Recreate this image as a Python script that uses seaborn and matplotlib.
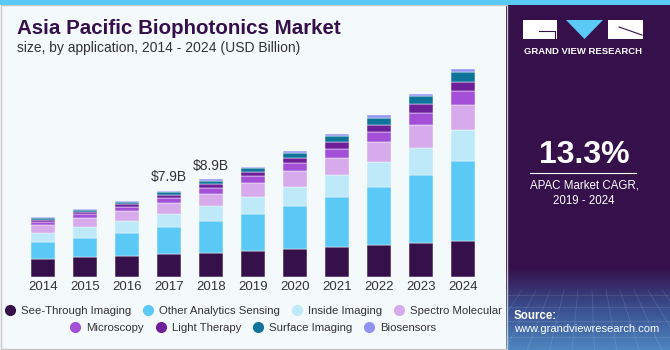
import numpy as np
import pandas as pd
import matplotlib.pyplot as plt
import matplotlib.patches as mpatches
from matplotlib.lines import Line2D
from matplotlib.colors import LinearSegmentedColormap
import seaborn as sns

# ── Data (USD Billion) ─────────────────────────────────────
years = [2014, 2015, 2016, 2017, 2018, 2019, 2020, 2021, 2022, 2023, 2024]
see_through     = [1.64, 1.79, 1.91, 2.06, 2.18, 2.36, 2.58, 2.73, 2.94, 3.09, 3.30]
other_analytics = [1.58, 1.79, 2.12, 2.48, 2.91, 3.36, 3.91, 4.58, 5.27, 6.21, 7.21]
inside_imaging  = [0.79, 0.97, 1.06, 1.18, 1.33, 1.52, 1.70, 1.97, 2.24, 2.45, 2.82]
spectro         = [0.73, 0.79, 0.88, 1.03, 1.12, 1.27, 1.48, 1.58, 1.79, 2.09, 2.33]
microscopy      = [0.30, 0.36, 0.39, 0.42, 0.58, 0.67, 0.73, 0.82, 0.94, 1.06, 1.21]
light_therapy   = [0.18, 0.20, 0.28, 0.30, 0.30, 0.36, 0.45, 0.58, 0.67, 0.79, 0.88]
surface_imaging = [0.12, 0.16, 0.18, 0.24, 0.30, 0.33, 0.42, 0.52, 0.64, 0.73, 0.88]
biosensors      = [0.09, 0.09, 0.12, 0.15, 0.15, 0.15, 0.15, 0.18, 0.21, 0.21, 0.27]

segments = ["See-Through Imaging", "Other Analytics Sensing", "Inside Imaging",
            "Spectro Molecular", "Microscopy", "Light Therapy",
            "Surface Imaging", "Biosensors"]
colors = ["#35104a", "#5bc9f5", "#bde9f9", "#d6aaeb",
          "#a34fd7", "#6e1f9a", "#0f7499", "#9191f3"]

annot_years = [2017, 2018]
annot_text = ["$7.9B", "$8.9B"]

series = [see_through, other_analytics, inside_imaging, spectro,
          microscopy, light_therapy, surface_imaging, biosensors]
df = pd.DataFrame({
    "year": np.tile(years, len(segments)),
    "segment": np.repeat(segments, len(years)),
    "value": np.concatenate(series),
})
totals = df.groupby("year")["value"].sum()

BG = "#f4f9fc"
PURPLE = "#35104a"
FONT = "Liberation Sans"

# ── Figure ─────────────────────────────────────────────────
fig = plt.figure(figsize=(6.7, 3.5), dpi=100)
fig.patch.set_facecolor(BG)

ax = fig.add_axes([22/670, 73/350, 462/670, 220/350])
ax.set_facecolor("none")

# seaborn stacks the last hue level at the bottom, so reverse the order
sns.histplot(data=df, x="year", weights="value", hue="segment",
             hue_order=segments[::-1], palette=dict(zip(segments, colors)),
             multiple="stack", discrete=True, shrink=0.58, alpha=1,
             edgecolor=BG, linewidth=0.35, legend=False, ax=ax)

ax.set_xlim(2013.5, 2024.5)
ax.set_ylim(0, 20)
ax.set_xticks(years)
ax.set_xticklabels([str(y) for y in years], fontsize=9.5, color="#333333",
                   family=FONT)
ax.set_yticks([])
ax.tick_params(length=0, pad=3)
ax.set_xlabel("")
ax.set_ylabel("")
for s in ax.spines.values():
    s.set_visible(False)

for yr, txt in zip(annot_years, annot_text):
    ax.text(yr, totals[yr] + 0.55, txt, ha="center", va="bottom",
            fontsize=10, color="#333333", family=FONT)

# ── Titles ─────────────────────────────────────────────────
fig.text(17/670, 1 - 29/350, "Asia Pacific Biophotonics Market",
         fontsize=14.8, fontweight="bold", color=PURPLE, va="center",
         family=FONT)
fig.text(17/670, 1 - 48/350, "size, by application, 2014 - 2024 (USD Billion)",
         fontsize=10, color="#333333", va="center", family=FONT)

# ── Legend (two centred rows) ──────────────────────────────
def handles(names, cols):
    return [Line2D([], [], marker="o", linestyle="", markersize=7,
                   markerfacecolor=c, markeredgecolor=c, label=n)
            for n, c in zip(names, cols)]

for row, yy in [(0, 311), (1, 328)]:
    names = segments[row*4:(row+1)*4]
    cols = colors[row*4:(row+1)*4]
    fig.legend(handles=handles(names, cols), loc="center", ncol=4,
               bbox_to_anchor=(253/670, 1 - yy/350), frameon=False,
               handletextpad=0.45, columnspacing=1.0, handlelength=1.0,
               prop={"family": FONT, "size": 8.2},
               labelcolor="#333333", borderpad=0)

# ── Frame, top stripe ──────────────────────────────────────
fig.add_artist(mpatches.Rectangle((0.5/670, 1/350), 506/670, 344/350,
                                  transform=fig.transFigure, fill=False,
                                  edgecolor="#c9c9c9", linewidth=1))
fig.add_artist(mpatches.Rectangle((0, 345/350), 1, 5/350,
                                  transform=fig.transFigure,
                                  facecolor="#5bc9f5", edgecolor="none"))

# ── Right panel ────────────────────────────────────────────
axr = fig.add_axes([506/670, 0, 164/670, 345/350])
axr.set_xlim(0, 164)
axr.set_ylim(345, 0)
axr.axis("off")
axr.add_patch(mpatches.Rectangle((0, 0), 164, 345, facecolor=PURPLE,
                                 edgecolor="none"))
grad = np.linspace(0, 1, 100).reshape(-1, 1)
cmap = LinearSegmentedColormap.from_list("g", [PURPLE, "#3b4f8f", "#4d86c0"])
axr.imshow(grad, extent=(0, 164, 345, 262), aspect="auto", cmap=cmap,
           zorder=1)
for xx in np.arange(-40, 200, 14):
    axr.plot([xx, 82 + (xx - 82) * 1.6], [285, 345], color="white",
             alpha=0.12, lw=0.6, zorder=2)
for yy in [290, 302, 316, 332]:
    axr.plot([0, 164], [yy, yy], color="white", alpha=0.12, lw=0.6, zorder=2)

# logo
axr.add_patch(mpatches.Rectangle((17, 15), 34, 19, facecolor="white",
                                 edgecolor="none", zorder=3))
axr.plot([33, 49, 49], [26, 26, 34], color=PURPLE, lw=0.8, zorder=4)
axr.add_patch(mpatches.Polygon([(60, 15), (97, 15), (78.5, 34)],
                               facecolor="#5bc9f5", edgecolor="none", zorder=3))
axr.add_patch(mpatches.Rectangle((102, 15), 35, 19, facecolor="white",
                                 edgecolor="none", zorder=3))
axr.plot([113, 136], [22, 30], color=PURPLE, lw=0.8, zorder=4)
axr.text(77, 46, "GRAND VIEW RESEARCH", color="white", fontsize=6.8,
         fontweight="bold", ha="center", va="center", family=FONT,
         zorder=4)

axr.text(78, 150, "13.3%", color="white", fontsize=23, fontweight="bold",
         ha="center", va="center", family=FONT, zorder=4)
axr.plot([24, 130], [168, 168], color="white", lw=0.8, zorder=4)
axr.text(78, 181, "APAC Market CAGR,", color="white", fontsize=8.3,
         ha="center", va="center", family=FONT, zorder=4)
axr.text(78, 196, "2019 - 2024", color="white", fontsize=8.3,
         ha="center", va="center", family=FONT, zorder=4)
axr.text(8, 311, "Source:", color="white", fontsize=8.3, fontweight="bold",
         ha="left", va="center", family=FONT, zorder=4)
axr.text(8, 324, "www.grandviewresearch.com", color="white", fontsize=8,
         ha="left", va="center", family=FONT, zorder=4)

fig.savefig("out.png", dpi=100, facecolor=fig.get_facecolor())
